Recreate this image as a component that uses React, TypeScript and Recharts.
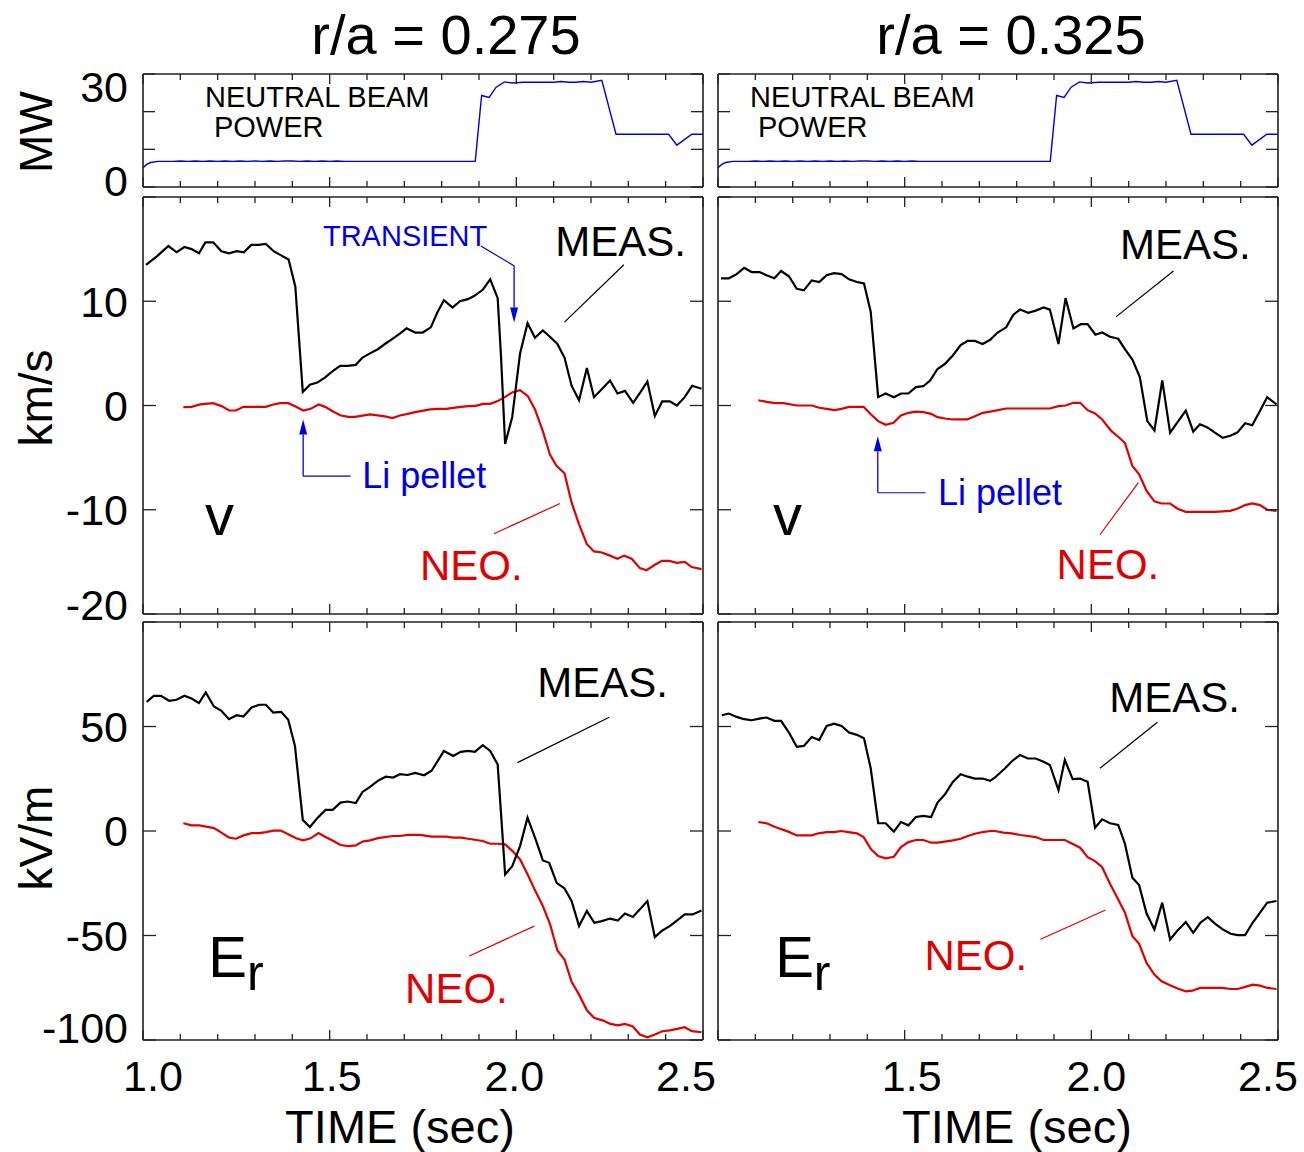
import React from "react";
import { LineChart, Line, XAxis, YAxis, ReferenceLine, ReferenceDot } from "recharts";

type Pt = [number, number];

// neutral beam power, MW (same shot for both radii)
const NB_POWER: Pt[] = [
  [1.0, 5.1], [1.01, 6.0], [1.02, 6.5], [1.04, 6.8], [1.08, 6.8], [1.1, 6.9], [1.12, 6.8], [1.14, 6.9],
  [1.16, 6.8], [1.18, 6.9], [1.2, 6.8], [1.22, 6.9], [1.24, 6.8], [1.26, 6.9], [1.28, 6.8], [1.3, 6.9],
  [1.32, 6.8], [1.34, 6.9], [1.36, 6.8], [1.38, 6.9], [1.4, 6.9], [1.42, 6.8], [1.44, 6.9], [1.46, 6.8],
  [1.48, 6.9], [1.5, 6.8], [1.52, 6.9], [1.54, 6.8], [1.6, 6.8], [1.7, 6.8], [1.8, 6.8], [1.89, 6.8],
  [1.907, 24.3], [1.927, 23.8], [1.946, 26.5], [1.968, 27.9], [1.99, 27.6], [2.02, 27.8], [2.06, 27.8],
  [2.1, 27.8], [2.12, 28.0], [2.14, 27.8], [2.16, 27.8], [2.18, 28.0], [2.2, 27.8], [2.229, 28.3],
  [2.267, 14.0], [2.408, 14.0], [2.43, 11.1], [2.47, 14.0], [2.5, 14.0],
];

// toroidal velocity, km/s, r/a = 0.275
const V_MEAS_275: Pt[] = [
  [1.008, 13.5], [1.037, 14.3], [1.068, 15.3], [1.09, 14.7], [1.111, 15.2], [1.13, 15.0], [1.15, 14.6],
  [1.167, 15.65], [1.188, 15.65], [1.21, 14.8], [1.23, 14.6], [1.251, 14.8], [1.27, 14.7], [1.29, 15.4],
  [1.309, 15.4], [1.329, 15.5], [1.35, 14.8], [1.37, 14.4], [1.39, 14.0], [1.408, 11.4], [1.428, 1.3],
  [1.447, 2.0], [1.467, 2.2], [1.488, 2.7], [1.508, 3.3], [1.528, 3.8], [1.548, 3.8], [1.57, 3.9],
  [1.588, 4.6], [1.608, 5.0], [1.629, 5.4], [1.648, 5.9], [1.668, 6.4], [1.688, 6.9], [1.706, 7.4],
  [1.729, 7.0], [1.749, 7.0], [1.771, 7.5], [1.788, 8.9], [1.806, 10.1], [1.829, 9.4], [1.849, 10.0],
  [1.87, 10.2], [1.887, 10.5], [1.91, 11.1], [1.93, 12.1], [1.95, 10.3], [1.959, 4.7], [1.97, -3.7],
  [1.989, -1.1], [2.01, 5.0], [2.03, 7.9], [2.05, 6.5], [2.071, 7.2], [2.09, 6.6], [2.11, 5.9],
  [2.129, 4.6], [2.148, 1.9], [2.168, 0.5], [2.189, 3.6], [2.208, 0.8], [2.23, 1.6], [2.251, 2.4],
  [2.271, 1.15], [2.291, 1.4], [2.313, 0.25], [2.333, 1.3], [2.351, 2.3], [2.371, -1.0], [2.391, 0.4],
  [2.411, 0.4], [2.43, 0.0], [2.451, 0.8], [2.471, 1.9], [2.496, 1.6],
];
const V_NEO_275: Pt[] = [
  [1.108, -0.16], [1.13, -0.13], [1.153, 0.1], [1.188, 0.22], [1.21, -0.06], [1.231, -0.48], [1.249, -0.48],
  [1.269, -0.13], [1.291, -0.13], [1.329, -0.13], [1.349, 0.1], [1.367, 0.22], [1.389, 0.22], [1.41, -0.13],
  [1.429, -0.48], [1.449, -0.32], [1.47, 0.1], [1.488, -0.13], [1.51, -0.6], [1.53, -0.96], [1.55, -1.09],
  [1.568, -1.09], [1.608, -0.86], [1.648, -1.05], [1.668, -1.2], [1.688, -0.96], [1.706, -0.83],
  [1.729, -0.64], [1.769, -0.38], [1.791, -0.32], [1.812, -0.32], [1.831, -0.22], [1.852, -0.13],
  [1.871, -0.06], [1.889, -0.06], [1.91, 0.16], [1.93, 0.16], [1.95, 0.42], [1.97, 0.83], [1.99, 1.28],
  [2.01, 1.47], [2.031, 0.9], [2.05, -0.38], [2.071, -2.46], [2.09, -4.7], [2.108, -5.8], [2.129, -6.5],
  [2.148, -9.3], [2.168, -11.4], [2.189, -13.3], [2.208, -14.0], [2.229, -14.1], [2.251, -14.4],
  [2.271, -14.7], [2.289, -14.4], [2.309, -14.7], [2.331, -15.6], [2.349, -15.8], [2.37, -15.3],
  [2.39, -14.9], [2.41, -14.9], [2.43, -15.1], [2.451, -15.0], [2.47, -15.5], [2.496, -15.7],
];

// toroidal velocity, km/s, r/a = 0.325
const V_MEAS_325: Pt[] = [
  [1.008, 12.2], [1.029, 12.2], [1.05, 12.6], [1.07, 13.2], [1.09, 12.8], [1.111, 12.8], [1.13, 12.5],
  [1.151, 12.2], [1.169, 12.9], [1.19, 12.4], [1.211, 11.2], [1.23, 11.05], [1.251, 12.0], [1.271, 11.85],
  [1.291, 12.5], [1.311, 12.7], [1.331, 12.6], [1.351, 12.1], [1.372, 11.85], [1.391, 11.7], [1.409, 9.0],
  [1.429, 0.8], [1.449, 1.15], [1.471, 0.8], [1.49, 1.15], [1.51, 1.15], [1.53, 1.76], [1.55, 1.85],
  [1.568, 2.4], [1.588, 3.5], [1.608, 4.0], [1.629, 4.8], [1.65, 5.8], [1.669, 6.2], [1.688, 6.2],
  [1.709, 5.9], [1.729, 6.3], [1.749, 7.0], [1.772, 7.5], [1.791, 8.7], [1.809, 9.2], [1.831, 8.9],
  [1.851, 9.1], [1.872, 9.4], [1.889, 9.2], [1.912, 5.9], [1.931, 10.3], [1.952, 7.4], [1.972, 7.8],
  [1.99, 7.8], [2.011, 6.8], [2.029, 7.0], [2.05, 6.6], [2.072, 6.4], [2.09, 5.4], [2.11, 4.4],
  [2.13, 2.7], [2.15, -1.5], [2.169, -2.4], [2.19, 2.4], [2.211, -2.6], [2.231, -1.6], [2.253, -0.5],
  [2.273, -2.5], [2.291, -1.8], [2.311, -2.1], [2.331, -2.6], [2.352, -3.1], [2.372, -2.9], [2.391, -2.6],
  [2.412, -1.7], [2.431, -1.9], [2.452, -0.5], [2.471, 0.8], [2.496, 0.1],
];
const V_NEO_325: Pt[] = [
  [1.108, 0.5], [1.13, 0.35], [1.153, 0.22], [1.175, 0.22], [1.211, 0], [1.251, 0], [1.271, -0.22],
  [1.291, -0.32], [1.312, -0.45], [1.331, -0.32], [1.351, -0.13], [1.39, -0.13], [1.41, -0.86],
  [1.429, -1.5], [1.449, -1.85], [1.47, -1.66], [1.49, -0.96], [1.51, -0.7], [1.53, -0.58], [1.55, -0.64],
  [1.571, -0.8], [1.588, -1.12], [1.608, -1.25], [1.629, -1.34], [1.668, -1.34], [1.688, -1.02],
  [1.709, -0.7], [1.729, -0.58], [1.772, -0.29], [1.811, -0.29], [1.889, -0.29], [1.912, -0.06],
  [1.931, 0], [1.952, 0.26], [1.97, 0.26], [1.99, -0.45], [2.01, -0.77], [2.029, -1.34], [2.054, -2.46],
  [2.072, -3.0], [2.09, -3.6], [2.11, -5.8], [2.128, -6.6], [2.148, -8.2], [2.169, -9.2], [2.188, -9.4],
  [2.211, -9.4], [2.231, -9.9], [2.253, -10.2], [2.331, -10.2], [2.372, -10.1], [2.391, -9.9],
  [2.412, -9.55], [2.431, -9.4], [2.452, -9.55], [2.471, -10.0], [2.496, -10.1],
];

// radial electric field, kV/m, r/a = 0.275
const ER_MEAS_275: Pt[] = [
  [1.01, 61.8], [1.029, 64.7], [1.048, 64.7], [1.07, 62.3], [1.09, 62.8], [1.111, 64.7], [1.13, 63.4],
  [1.15, 61.2], [1.168, 66.3], [1.19, 59.6], [1.21, 57.5], [1.23, 53.5], [1.251, 55.4], [1.269, 54.8],
  [1.291, 59.1], [1.311, 60.4], [1.329, 60.4], [1.349, 56.7], [1.37, 57.0], [1.389, 53.2], [1.407, 40.7],
  [1.428, 5.3], [1.447, 1.9], [1.468, 6.4], [1.489, 10.1], [1.508, 10.1], [1.529, 13.6], [1.548, 14.1],
  [1.57, 13.4], [1.588, 18.7], [1.608, 21.1], [1.629, 24.0], [1.65, 26.0], [1.67, 25.6], [1.688, 27.2],
  [1.709, 26.8], [1.729, 27.8], [1.753, 26.7], [1.773, 28.8], [1.806, 38.3], [1.831, 35.9], [1.851, 37.9],
  [1.871, 38.3], [1.889, 37.9], [1.91, 41.1], [1.93, 38.3], [1.95, 31.9], [1.961, 3.2], [1.97, -20.8],
  [1.989, -16.8], [2.01, -7.2], [2.03, 6.4], [2.05, -3.2], [2.071, -14.1], [2.088, -15.2], [2.108, -24.8],
  [2.129, -27.5], [2.148, -33.5], [2.168, -45.5], [2.189, -38.3], [2.209, -43.9], [2.229, -43.1],
  [2.251, -41.9], [2.272, -42.8], [2.291, -39.5], [2.312, -41.1], [2.331, -37.5], [2.351, -33.5],
  [2.371, -50.8], [2.391, -47.6], [2.411, -45.5], [2.431, -42.8], [2.451, -39.9], [2.472, -39.9],
  [2.496, -38.0],
];
const ER_NEO_275: Pt[] = [
  [1.108, 3.7], [1.13, 2.7], [1.151, 2.7], [1.19, 1.4], [1.21, -0.8], [1.231, -3.2], [1.249, -3.7],
  [1.269, -2.1], [1.291, -1.0], [1.311, -1.0], [1.329, -0.5], [1.349, 0.2], [1.369, 0.2], [1.389, -1.6],
  [1.41, -3.5], [1.429, -4.5], [1.449, -3.5], [1.47, -1.0], [1.489, -2.9], [1.51, -4.8], [1.529, -6.7],
  [1.55, -7.2], [1.57, -6.9], [1.588, -5.1], [1.608, -4.5], [1.629, -3.4], [1.648, -2.9], [1.669, -2.4],
  [1.688, -2.4], [1.709, -1.9], [1.742, -1.9], [1.773, -2.7], [1.812, -2.7], [1.831, -3.2], [1.852, -3.2],
  [1.871, -3.7], [1.91, -4.8], [1.93, -6.1], [1.95, -6.1], [1.97, -6.4], [1.99, -9.6], [2.01, -13.6],
  [2.031, -21.1], [2.05, -28.4], [2.071, -35.9], [2.09, -44.4], [2.11, -57.2], [2.129, -61.5],
  [2.148, -72.2], [2.168, -78.3], [2.189, -85.8], [2.209, -89.5], [2.231, -90.6], [2.252, -92.3],
  [2.272, -93.0], [2.291, -92.3], [2.312, -93.5], [2.331, -97.4], [2.351, -98.7], [2.371, -97.4],
  [2.391, -95.8], [2.411, -95.4], [2.431, -94.7], [2.451, -93.9], [2.47, -95.8], [2.496, -96.3],
];

// radial electric field, kV/m, r/a = 0.325
const ER_MEAS_325: Pt[] = [
  [1.01, 55.4], [1.029, 56.2], [1.05, 54.6], [1.07, 53.5], [1.09, 53.0], [1.111, 53.8], [1.13, 54.3],
  [1.151, 52.7], [1.169, 52.7], [1.19, 47.1], [1.211, 40.3], [1.23, 40.7], [1.251, 45.0], [1.271, 43.5],
  [1.291, 50.3], [1.311, 51.4], [1.331, 50.3], [1.351, 47.1], [1.372, 46.0], [1.391, 44.4], [1.409, 30.0],
  [1.429, 3.7], [1.449, 3.7], [1.471, -0.3], [1.49, 4.3], [1.51, 2.7], [1.53, 6.7], [1.55, 7.2],
  [1.571, 6.7], [1.588, 13.6], [1.608, 17.6], [1.629, 23.5], [1.65, 27.2], [1.669, 26.0], [1.688, 25.1],
  [1.709, 25.1], [1.729, 24.0], [1.742, 25.6], [1.769, 30.0], [1.788, 33.5], [1.809, 36.4], [1.83, 34.7],
  [1.851, 34.7], [1.872, 33.1], [1.889, 31.6], [1.912, 19.6], [1.929, 34.0], [1.95, 24.8], [1.97, 25.1],
  [1.99, 23.6], [2.01, 1.6], [2.029, 5.6], [2.05, 3.7], [2.072, 2.9], [2.09, -6.1], [2.11, -22.4],
  [2.128, -25.9], [2.148, -39.5], [2.169, -47.1], [2.19, -34.3], [2.211, -51.9], [2.231, -47.6],
  [2.253, -43.5], [2.273, -48.7], [2.292, -43.9], [2.312, -41.2], [2.332, -44.4], [2.352, -47.1],
  [2.373, -49.2], [2.392, -49.8], [2.412, -49.8], [2.432, -43.9], [2.453, -38.8], [2.471, -34.3],
  [2.496, -33.5],
];
const ER_NEO_325: Pt[] = [
  [1.108, 4.3], [1.13, 3.7], [1.153, 1.9], [1.188, -0.3], [1.211, -2.1], [1.251, -2.1], [1.269, -1.1],
  [1.291, -0.5], [1.311, -0.5], [1.331, 0], [1.349, -0.5], [1.372, -1.1], [1.39, -2.9], [1.41, -8.8],
  [1.429, -12.0], [1.449, -13.1], [1.471, -12.3], [1.49, -7.7], [1.51, -5.3], [1.53, -4.3], [1.55, -4.3],
  [1.571, -5.6], [1.588, -5.6], [1.608, -5.1], [1.629, -4.5], [1.65, -3.7], [1.669, -2.4], [1.688, -1.3],
  [1.709, -0.5], [1.729, 0], [1.742, 0], [1.764, -0.8], [1.787, -1.1], [1.809, -1.9], [1.83, -2.4],
  [1.851, -2.9], [1.872, -4.3], [1.929, -4.3], [1.949, -6.1], [1.97, -8.0], [1.99, -12.5], [2.01, -14.4],
  [2.029, -17.3], [2.05, -25.2], [2.071, -32.4], [2.09, -39.1], [2.11, -50.3], [2.128, -54.0],
  [2.148, -63.1], [2.169, -68.7], [2.188, -71.9], [2.211, -73.8], [2.231, -75.4], [2.253, -76.7],
  [2.271, -76.4], [2.291, -75.1], [2.352, -75.1], [2.372, -75.6], [2.392, -75.6], [2.412, -74.6],
  [2.432, -73.5], [2.452, -74.0], [2.472, -75.1], [2.496, -75.6],
];

const TIME_TICKS = [1.0, 1.1, 1.2, 1.3, 1.4, 1.5, 1.6, 1.7, 1.8, 1.9, 2.0, 2.1, 2.2, 2.3, 2.4, 2.5];
const TIME_MAJOR = [1.0, 1.5, 2.0, 2.5];
const NB_TICKS = [0, 10, 20, 30];
const V_TICKS = [-20, -10, 0, 10, 20];
const ER_TICKS = [-100, -50, 0, 50, 100];
const NB_LABELS = [0, 30];
const V_LABELS = [-20, -10, 0, 10];
const ER_LABELS = [-100, -50, 0, 50];
const TITLES = ["r/a = 0.275", "r/a = 0.325"];

const FONT = '"Liberation Sans", Arial, Helvetica, sans-serif';
const TICK_FS = 43;
const BLACK = "#000";
const RED = "#e00000";
const BLUE = "#0000e6";
const FRAME = "#222";
// axes need a non-zero size to be drawn; keep it negligible so the plot box stays put
const THIN = 0.01;

// frame boxes of the panels
const COLS = [
  { left: 143, w: 560, ml: 143, mr: 12 },
  { left: 718, w: 560, ml: 10, mr: 24 },
];
const ROWS = [
  { top: 74, h: 113, mt: 20, mb: 24 },
  { top: 197, h: 417, mt: 20, mb: 24 },
  { top: 622, h: 418, mt: 20, mb: 66 },
];

// per-row nudges for the end labels so they stay inside the figure
const Y_SHIFT: Record<number, number>[] = [{ 30: 13, 0: -6 }, { [-20]: -9 }, { [-100]: -12 }];
const TIME_SHIFT = [
  { "1.0": 10, "1.5": 2, "2.0": -2, "2.5": -17 } as Record<string, number>,
  { "1.5": 7, "2.0": 5, "2.5": -10 } as Record<string, number>,
];

const noLabel = () => <g />;

function text(key: string, t: number, y: number, value: string, size: number, color: string) {
  return (
    <ReferenceDot
      key={key}
      xAxisId="t"
      yAxisId="y"
      x={t}
      y={y}
      r={0}
      shape={(p: any) => (
        <text x={p.cx} y={p.cy} fontSize={size} fill={color} fontFamily={FONT}>
          {value}
        </text>
      )}
    />
  );
}

function symbol(key: string, t: number, y: number, main: string, sub?: string) {
  return (
    <ReferenceDot
      key={key}
      xAxisId="t"
      yAxisId="y"
      x={t}
      y={y}
      r={0}
      shape={(p: any) => (
        <text x={p.cx} y={p.cy} fontSize={58} fill={BLACK} fontFamily={FONT}>
          {main}
          {sub && (
            <tspan dy={13} fontSize={50}>
              {sub}
            </tspan>
          )}
        </text>
      )}
    />
  );
}

function arrowShape(p: any) {
  const { x1, y1, x2, y2, stroke } = p;
  const ang = Math.atan2(y2 - y1, x2 - x1);
  const len = 15;
  const half = 4;
  const bx = x2 - len * Math.cos(ang);
  const by = y2 - len * Math.sin(ang);
  const px = -Math.sin(ang) * half;
  const py = Math.cos(ang) * half;
  return (
    <g>
      <line x1={x1} y1={y1} x2={bx} y2={by} stroke={stroke} strokeWidth={1.3} />
      <polygon points={`${x2},${y2} ${bx + px},${by + py} ${bx - px},${by - py}`} fill={stroke} />
    </g>
  );
}

function seg(key: string, a: Pt, b: Pt, color: string, arrow = false) {
  return (
    <ReferenceLine
      key={key}
      xAxisId="t"
      yAxisId="y"
      segment={[
        { x: a[0], y: a[1] },
        { x: b[0], y: b[1] },
      ]}
      stroke={color}
      strokeWidth={1.2}
      shape={arrow ? arrowShape : undefined}
    />
  );
}

interface Trace {
  data: Pt[];
  color: string;
  width: number;
}

interface PanelProps {
  col: number;
  row: number;
  domain: [number, number];
  ticks: number[];
  labels: number[];
  tickLen: number;
  traces: Trace[];
  notes: React.ReactNode[];
}

const toRows = (pts: Pt[]) => pts.map(([t, y]) => ({ t, y }));

function Panel({ col, row, domain, ticks, labels, tickLen, traces, notes }: PanelProps) {
  const c = COLS[col];
  const r = ROWS[row];
  const width = c.ml + c.w + c.mr;
  const height = r.mt + r.h + r.mb;
  const showTime = row === 2;
  const line = { stroke: FRAME, strokeWidth: 1.3 };
  const frame = { stroke: FRAME, strokeWidth: 1.6 };

  const yTick = (p: any) => {
    const v = p.payload.value;
    if (col !== 0 || !labels.includes(v)) return <g />;
    return (
      <text
        x={p.x - 15}
        y={p.y + (Y_SHIFT[row][v] ?? 0) + 0.36 * TICK_FS}
        textAnchor="end"
        fontSize={TICK_FS}
        fontFamily={FONT}
        fill={BLACK}
      >
        {String(v)}
      </text>
    );
  };

  // time ticks point into the box: 0.1 s minor marks, longer marks every 0.5 s
  const timeTick = (edge: "top" | "bottom") => (p: any) => {
    const v = Number(p.payload.value);
    const s = v.toFixed(1);
    const major = TIME_MAJOR.some((m) => Math.abs(m - v) < 1e-6);
    const dir = edge === "bottom" ? -1 : 1;
    const shift = TIME_SHIFT[col][s];
    return (
      <g>
        <line x1={p.x} y1={p.y} x2={p.x} y2={p.y + dir * (major ? 10 : 6)} stroke={FRAME} strokeWidth={1.3} />
        {edge === "bottom" && showTime && shift !== undefined && (
          <text x={p.x + shift} y={p.y + 51} textAnchor="middle" fontSize={TICK_FS} fontFamily={FONT} fill={BLACK}>
            {s}
          </text>
        )}
      </g>
    );
  };

  return (
    <div style={{ position: "absolute", left: c.left - c.ml, top: r.top - r.mt }}>
      <LineChart
        width={width}
        height={height}
        data={toRows(traces[0].data)}
        margin={{ top: r.mt, right: c.mr, bottom: r.mb, left: c.ml }}
      >
        <XAxis
          xAxisId="t"
          dataKey="t"
          type="number"
          domain={[1, 2.5]}
          allowDataOverflow
          ticks={TIME_TICKS}
          interval={0}
          height={THIN}
          tickSize={0}
          tickMargin={0}
          tickLine={false}
          axisLine={frame}
          tick={timeTick("bottom")}
        />
        <XAxis
          xAxisId="tt"
          dataKey="t"
          orientation="top"
          type="number"
          domain={[1, 2.5]}
          allowDataOverflow
          ticks={TIME_TICKS}
          interval={0}
          height={THIN}
          tickSize={0}
          tickMargin={0}
          tickLine={false}
          axisLine={frame}
          tick={timeTick("top")}
        />
        <YAxis
          yAxisId="y"
          type="number"
          domain={domain}
          allowDataOverflow
          ticks={ticks}
          interval={0}
          width={THIN}
          tickSize={-tickLen}
          tickMargin={tickLen}
          tickLine={line}
          axisLine={frame}
          tick={yTick}
        />
        <YAxis
          yAxisId="yr"
          orientation="right"
          type="number"
          domain={domain}
          allowDataOverflow
          ticks={ticks}
          interval={0}
          width={THIN}
          tickSize={-tickLen}
          tickLine={line}
          axisLine={frame}
          tick={noLabel}
        />
        {traces.map((tr, i) => (
          <Line
            key={i}
            xAxisId="t"
            yAxisId="y"
            data={toRows(tr.data)}
            dataKey="y"
            type="linear"
            stroke={tr.color}
            strokeWidth={tr.width}
            dot={false}
            activeDot={false}
            isAnimationActive={false}
          />
        ))}
        {notes}
      </LineChart>
    </div>
  );
}

const beamNotes = (t1: number, t2: number) => [
  text("nb1", t1, 21.2, "NEUTRAL BEAM", 29, BLACK),
  text("nb2", t2, 13.3, "POWER", 29, BLACK),
];

export default function App() {
  return (
    <div
      style={{
        position: "absolute",
        left: 0,
        top: 0,
        width: 1304,
        height: 1152,
        background: "#fff",
        overflow: "hidden",
        fontFamily: FONT,
      }}
    >
      <svg width={1304} height={1152} style={{ position: "absolute", left: 0, top: 0 }}>
        <g fontFamily={FONT} fill={BLACK}>
          <text x={446} y={54} textAnchor="middle" fontSize={56}>
            {TITLES[0]}
          </text>
          <text x={1011} y={54} textAnchor="middle" fontSize={56}>
            {TITLES[1]}
          </text>
          <text transform="translate(52,132) rotate(-90)" textAnchor="middle" fontSize={46}>
            MW
          </text>
          <text transform="translate(52,398) rotate(-90)" textAnchor="middle" fontSize={46}>
            km/s
          </text>
          <text transform="translate(52,838) rotate(-90)" textAnchor="middle" fontSize={46}>
            kV/m
          </text>
          <text x={400} y={1143} textAnchor="middle" fontSize={47}>
            TIME (sec)
          </text>
          <text x={1017} y={1143} textAnchor="middle" fontSize={47}>
            TIME (sec)
          </text>
        </g>
      </svg>

      <Panel
        col={0}
        row={0}
        domain={[0, 30]}
        ticks={NB_TICKS}
        labels={NB_LABELS}
        tickLen={12}
        traces={[{ data: NB_POWER, color: BLUE, width: 1.4 }]}
        notes={beamNotes(1.166, 1.19)}
      />
      <Panel
        col={1}
        row={0}
        domain={[0, 30]}
        ticks={NB_TICKS}
        labels={NB_LABELS}
        tickLen={12}
        traces={[{ data: NB_POWER, color: BLUE, width: 1.4 }]}
        notes={beamNotes(1.086, 1.107)}
      />

      <Panel
        col={0}
        row={1}
        domain={[-20, 20]}
        ticks={V_TICKS}
        labels={V_LABELS}
        tickLen={13}
        traces={[
          { data: V_NEO_275, color: RED, width: 2.2 },
          { data: V_MEAS_275, color: BLACK, width: 2.2 },
        ]}
        notes={[
          text("tr", 1.482, 15.3, "TRANSIENT", 29, BLUE),
          seg("tr1", [1.905, 15.3], [1.994, 13.4], BLUE),
          seg("tr2", [1.994, 13.4], [1.994, 7.96], BLUE, true),
          text("ms", 2.104, 14.3, "MEAS.", 42, BLACK),
          seg("ms1", [2.288, 13.5], [2.129, 8.0], BLACK),
          text("li", 1.587, -7.9, "Li pellet", 36, BLUE),
          seg("li1", [1.556, -6.78], [1.429, -6.78], BLUE),
          seg("li2", [1.429, -6.78], [1.429, -1.34], BLUE, true),
          symbol("sym", 1.166, -12.4, "v"),
          text("neo", 1.742, -16.7, "NEO.", 42, RED),
          seg("neo1", [1.94, -12.3], [2.117, -9.4], RED),
        ]}
      />
      <Panel
        col={1}
        row={1}
        domain={[-20, 20]}
        ticks={V_TICKS}
        labels={V_LABELS}
        tickLen={13}
        traces={[
          { data: V_NEO_325, color: RED, width: 2.2 },
          { data: V_MEAS_325, color: BLACK, width: 2.2 },
        ]}
        notes={[
          text("ms", 2.077, 14.1, "MEAS.", 42, BLACK),
          seg("ms1", [2.22, 12.9], [2.066, 8.5], BLACK),
          text("li", 1.589, -9.5, "Li pellet", 36, BLUE),
          seg("li1", [1.556, -8.37], [1.428, -8.37], BLUE),
          seg("li2", [1.428, -8.37], [1.428, -2.94], BLUE, true),
          symbol("sym", 1.147, -12.4, "v"),
          text("neo", 1.907, -16.6, "NEO.", 42, RED),
          seg("neo1", [2.023, -12.4], [2.126, -7.4], RED),
        ]}
      />

      <Panel
        col={0}
        row={2}
        domain={[-100, 100]}
        ticks={ER_TICKS}
        labels={ER_LABELS}
        tickLen={13}
        traces={[
          { data: ER_NEO_275, color: RED, width: 2.2 },
          { data: ER_MEAS_275, color: BLACK, width: 2.2 },
        ]}
        notes={[
          text("ms", 2.056, 64.1, "MEAS.", 42, BLACK),
          seg("ms1", [2.249, 54.4], [2.003, 32.7], BLACK),
          symbol("sym", 1.175, -69.9, "E", "r"),
          text("neo", 1.702, -82.3, "NEO.", 42, RED),
          seg("neo1", [1.874, -59.8], [2.048, -45.5], RED),
        ]}
      />
      <Panel
        col={1}
        row={2}
        domain={[-100, 100]}
        ticks={ER_TICKS}
        labels={ER_LABELS}
        tickLen={13}
        traces={[
          { data: ER_NEO_325, color: RED, width: 2.2 },
          { data: ER_MEAS_325, color: BLACK, width: 2.2 },
        ]}
        notes={[
          text("ms", 2.048, 56.9, "MEAS.", 42, BLACK),
          seg("ms1", [2.177, 52.0], [2.023, 30.0], BLACK),
          symbol("sym", 1.153, -69.9, "E", "r"),
          text("neo", 1.553, -66.5, "NEO.", 42, RED),
          seg("neo1", [1.864, -51.8], [2.038, -37.8], RED),
        ]}
      />
    </div>
  );
}
